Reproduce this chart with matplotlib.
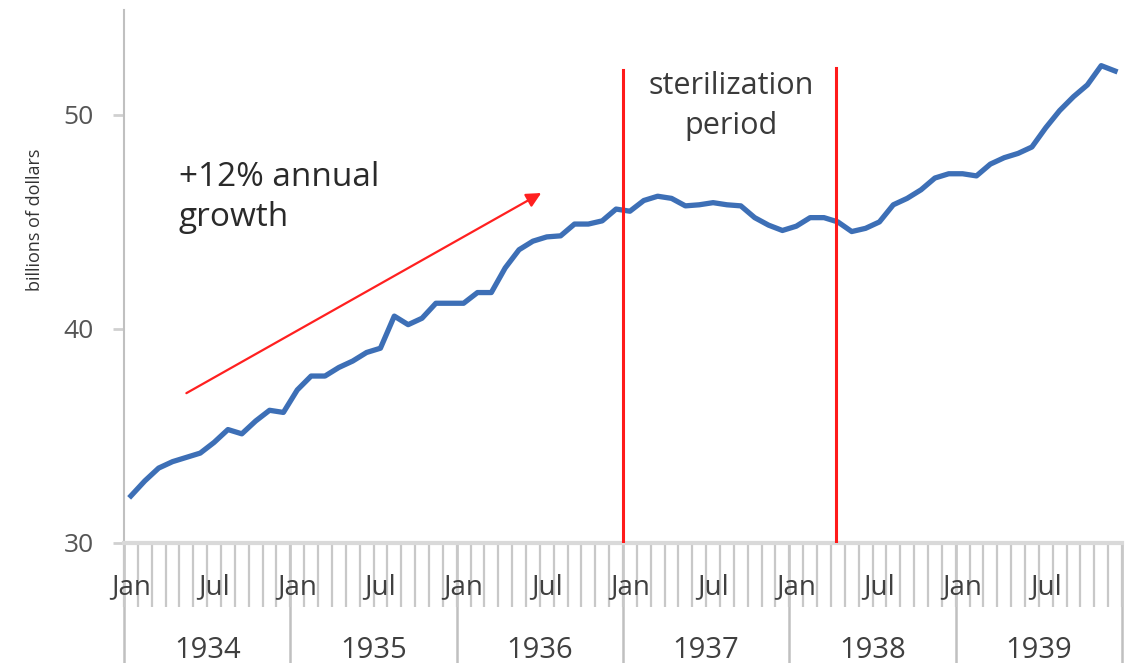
import matplotlib
matplotlib.use("Agg")
import matplotlib.pyplot as plt
import matplotlib.transforms as mtransforms
import numpy as np

plt.rcParams['font.family'] = ['Open Sans', 'DejaVu Sans']

# ---- data ----
years = ['1934', '1935', '1936', '1937', '1938', '1939']
month_labels = {0: 'Jan', 6: 'Jul'}
money_stock = [
    32.2, 32.9, 33.5, 33.8, 34.0, 34.2, 34.7, 35.3, 35.1, 35.7, 36.2, 36.1,   # 1934
    37.15, 37.8, 37.8, 38.2, 38.5, 38.9, 39.1, 40.6, 40.2, 40.5, 41.2, 41.2,  # 1935
    41.2, 41.7, 41.7, 42.85, 43.7, 44.1, 44.3, 44.35, 44.9, 44.9, 45.05, 45.6,  # 1936
    45.5, 46.0, 46.2, 46.1, 45.75, 45.8, 45.9, 45.8, 45.75, 45.2, 44.85, 44.6,  # 1937
    44.8, 45.2, 45.2, 45.0, 44.55, 44.7, 45.0, 45.8, 46.1, 46.5, 47.05, 47.25,  # 1938
    47.25, 47.15, 47.7, 48.0, 48.2, 48.5, 49.4, 50.2, 50.85, 51.4, 52.3, 52.05,  # 1939
]
steril_start = 35.5   # boundary before Jan 1937
steril_end = 50.9     # around Apr 1938
y_ticks = [30, 40, 50]

n = len(money_stock)
x = np.arange(n)

fig = plt.figure(figsize=(11.3, 6.63), dpi=100)
fig.patch.set_facecolor('white')
ax = fig.add_axes([124/1130, 1-543/663, (1122-124)/1130, 533/663])

ax.plot(x, money_stock, color='#3d6fb6', lw=3.8, solid_joinstyle='round', zorder=3)

ax.set_xlim(-0.5, n - 0.5)
ax.set_ylim(30, 54.9)

# sterilization lines
ax.plot([steril_start, steril_start], [30, 52.1], color='#ff1a1a', lw=2.2, zorder=4)
ax.plot([steril_end, steril_end], [30, 52.2], color='#ff1a1a', lw=2.2, zorder=4)
ax.text(43.3, 50.4, 'sterilization\nperiod', ha='center', va='center', fontsize=22,
        color='#3a3a3a', linespacing=1.42)

# growth arrow
ax.annotate('', xy=(29.6, 46.35), xytext=(4.0, 37.0),
            arrowprops=dict(arrowstyle='-|>', color='#ff2020', lw=1.6,
                            mutation_scale=22, shrinkA=0, shrinkB=0))
ax.text(3.45, 46.15, '+12% annual\ngrowth', ha='left', va='center', fontsize=24,
        color='#2a2a2a', linespacing=1.3)

# spines
for s in ['top', 'right']:
    ax.spines[s].set_visible(False)
ax.spines['left'].set_color('#c0c0c0')
ax.spines['left'].set_linewidth(1.5)
ax.spines['bottom'].set_color('#d9d9d9')
ax.spines['bottom'].set_linewidth(3)

# y ticks
ax.set_yticks(y_ticks)
ax.set_yticklabels([str(v) for v in y_ticks])
ax.tick_params(axis='y', length=8, width=2, color='#d0d0d0', pad=14,
               labelsize=19, labelcolor='#555555')
fig.text(35/1130, 1-220/663, 'billions of dollars', rotation=90, ha='center',
         va='center', fontsize=13, color='#333333')

# x ticks: month boundaries
ax.set_xticks(np.arange(-0.5, n, 1))
ax.set_xticklabels([])
ax.tick_params(axis='x', which='major', length=46, width=1.6, color='#c8c8c8')

trans = mtransforms.blended_transform_factory(ax.transData, ax.transAxes)
for i in range(n):
    if i % 12 in month_labels:
        ax.text(i, -44/533, month_labels[i % 12], transform=trans, ha='center',
                va='center', fontsize=20, color='#404040', clip_on=False)
for k, yr in enumerate(years):
    ax.text(k*12 + 5.5, -107/533, yr, transform=trans, ha='center', va='center',
            fontsize=21, color='#404040', clip_on=False)
for k in range(len(years) + 1):
    xb = k*12 - 0.5
    ax.plot([xb, xb], [0, -0.23], transform=trans, color='#c0c0c0', lw=1.8,
            clip_on=False, zorder=1)

fig.savefig('out.png', dpi=100, facecolor='white')
